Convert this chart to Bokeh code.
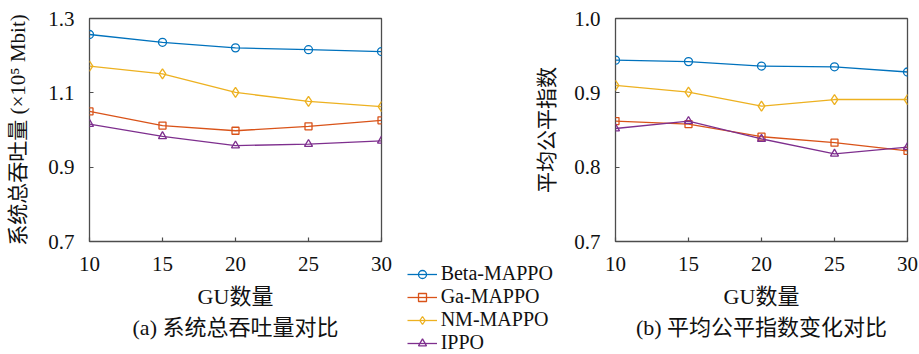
from bokeh.plotting import figure
from bokeh.layouts import row, column
from bokeh.models import Range1d, FixedTicker, Legend, LegendItem, Title, PrintfTickFormatter
from bokeh.embed import file_html
from bokeh.resources import INLINE

# ---- data ----
gu = [10, 15, 20, 25, 30]
x_ticks = [10, 15, 20, 25, 30]

thr_beta = [1.257, 1.236, 1.221, 1.216, 1.211]
thr_ga = [1.050, 1.012, 0.998, 1.010, 1.026]
thr_nm = [1.172, 1.151, 1.101, 1.077, 1.063]
thr_ippo = [1.016, 0.983, 0.958, 0.962, 0.971]
thr_ticks = [0.7, 0.9, 1.1, 1.3]

fair_beta = [0.944, 0.942, 0.936, 0.935, 0.928]
fair_ga = [0.862, 0.858, 0.841, 0.833, 0.822]
fair_nm = [0.910, 0.901, 0.882, 0.891, 0.891]
fair_ippo = [0.852, 0.862, 0.838, 0.818, 0.827]
fair_ticks = [0.7, 0.8, 0.9, 1.0]

names = ["Beta-MAPPO", "Ga-MAPPO", "NM-MAPPO", "IPPO"]
colors = ["#0072BD", "#D95319", "#EDB120", "#7E2F8E"]
markers = ["circle", "square", "diamond", "triangle"]
msizes = [8, 7, 10, 8]

LATIN = "'Liberation Serif'"
MIXED = "'Liberation Serif', 'Noto Sans CJK SC'"
FRAME = "#4d4d4d"
TXT = "#111111"
H = 354


def make_fig(width, border_left, border_right, top, yrange, yticks, ylabel, caption):
    p = figure(width=width, height=H, output_backend="svg", toolbar_location=None,
               x_range=Range1d(10, 30), y_range=Range1d(*yrange))
    p.frame_width = 292
    p.frame_height = 223
    p.min_border_left = border_left
    p.min_border_right = border_right
    p.min_border_top = top
    p.min_border_bottom = H - top - 223
    p.grid.visible = False
    p.outline_line_color = FRAME
    p.outline_line_width = 1.3

    p.xaxis.ticker = FixedTicker(ticks=x_ticks)
    p.yaxis.ticker = FixedTicker(ticks=yticks)
    p.yaxis.formatter = PrintfTickFormatter(format="%.1f")
    for ax in (p.xaxis[0], p.yaxis[0]):
        ax.axis_line_color = None
        ax.major_tick_in = 4
        ax.major_tick_out = 0
        ax.minor_tick_line_color = None
        ax.major_tick_line_color = FRAME
        ax.major_tick_line_width = 1.2
        ax.major_label_text_font = LATIN
        ax.major_label_text_font_size = "21px"
        ax.major_label_text_color = TXT
        ax.axis_label_text_font = MIXED
        ax.axis_label_text_font_style = "normal"
        ax.axis_label_text_color = TXT
    p.xaxis.major_label_standoff = 15
    p.xaxis.axis_label = "GU数量"
    p.xaxis.axis_label_text_font_size = "22px"
    p.xaxis.axis_label_standoff = 10
    p.yaxis.major_label_standoff = 15
    p.yaxis.axis_label = ylabel
    p.yaxis.axis_label_text_font_size = "21px"
    p.yaxis.axis_label_standoff = 15

    t = Title(text=caption, align="center", text_font=MIXED, text_font_size="22px",
              text_font_style="normal", text_color=TXT, standoff=2)
    p.add_layout(t, "below")
    return p


p1 = make_fig(400, 89, 19, 17, (0.7, 1.3), thr_ticks, "系统总吞吐量 (×10⁵ Mbit)", "(a) 系统总吞吐量对比")
p2 = make_fig(349, 45, 12, 18, (0.7, 1.0), fair_ticks, None, "(b) 平均公平指数变化对比")

# middle strip, top: y-axis title of plot (b), aligned with p2's frame
top_mid = figure(width=170, height=254, output_backend="svg", toolbar_location=None,
                 x_range=Range1d(10, 30), y_range=Range1d(0.7, 1.0), x_axis_location=None)
top_mid.min_border_left = 158
top_mid.frame_width = 12
top_mid.min_border_right = 0
top_mid.min_border_top = 18
top_mid.frame_height = 223
top_mid.min_border_bottom = 13
top_mid.grid.visible = False
top_mid.outline_line_color = None
ya = top_mid.yaxis[0]
ya.ticker = FixedTicker(ticks=[])
ya.axis_line_color = None
ya.major_tick_line_color = None
ya.minor_tick_line_color = None
ya.major_label_text_font_size = "0px"
ya.major_label_standoff = 0
ya.axis_label = "平均公平指数"
ya.axis_label_standoff = 0
ya.axis_label_text_font = MIXED
ya.axis_label_text_font_size = "21px"
ya.axis_label_text_font_style = "normal"
ya.axis_label_text_color = TXT

# middle strip, bottom: shared legend
leg_fig = figure(width=170, height=100, output_backend="svg", toolbar_location=None,
                 x_range=Range1d(100, 101), y_range=Range1d(100, 101))
leg_fig.axis.visible = False
leg_fig.min_border_left = 4
leg_fig.frame_width = 162
leg_fig.min_border_right = 4
leg_fig.min_border_top = 0
leg_fig.frame_height = 100
leg_fig.min_border_bottom = 0
leg_fig.grid.visible = False
leg_fig.outline_line_color = None

thr_series = [thr_beta, thr_ga, thr_nm, thr_ippo]
fair_series = [fair_beta, fair_ga, fair_nm, fair_ippo]

items = []
for i in range(4):
    p1.line(gu, thr_series[i], line_color=colors[i], line_width=1.3)
    p1.scatter(gu, thr_series[i], marker=markers[i], size=msizes[i], fill_color=None,
               line_color=colors[i], line_width=1.3)
    p2.line(gu, fair_series[i], line_color=colors[i], line_width=1.3)
    p2.scatter(gu, fair_series[i], marker=markers[i], size=msizes[i], fill_color=None,
               line_color=colors[i], line_width=1.3)
    l = leg_fig.line(gu, fair_series[i], line_color=colors[i], line_width=1.3)
    s = leg_fig.scatter(gu, fair_series[i], marker=markers[i], size=msizes[i], fill_color=None,
                        line_color=colors[i], line_width=1.3)
    items.append(LegendItem(label=names[i], renderers=[l, s]))

legend = Legend(items=items, location=(4, 0), border_line_color=None,
                background_fill_alpha=0, padding=0, margin=0, spacing=0,
                label_height=20, glyph_height=20, glyph_width=30, label_standoff=4,
                label_text_font=LATIN, label_text_font_size="20px", label_text_color=TXT)
leg_fig.add_layout(legend, "center")

layout = row(p1, column(top_mid, leg_fig), p2)
open("out.html", "w").write(file_html(layout, INLINE))
